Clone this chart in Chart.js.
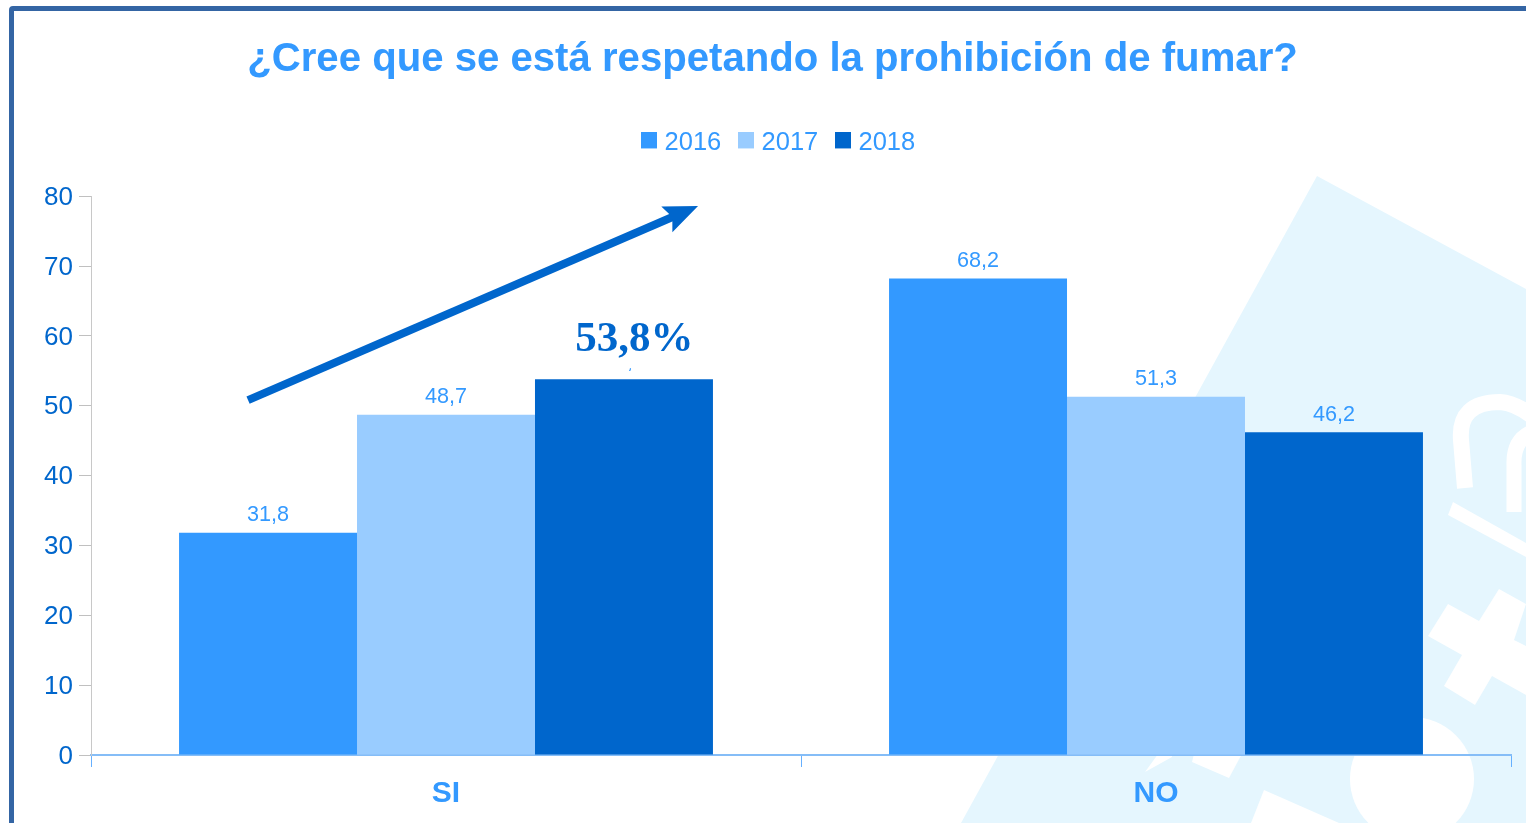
<!DOCTYPE html>
<html><head><meta charset="utf-8">
<style>
html,body{margin:0;padding:0;background:#fff;overflow:hidden;width:1526px;height:823px}
#frame{position:absolute;left:9px;top:6px;width:1600px;height:900px;border:5px solid #3465a4;border-radius:4px;box-sizing:border-box}
#wrap{position:absolute;left:0;top:0;width:1526px;height:823px}
</style>
<script src="https://cdn.jsdelivr.net/npm/chart.js@4"></script>
</head><body>
<div id="wrap"><canvas id="c" width="1526" height="823"></canvas></div>
<div id="frame"></div>
<script>
const categories = ['SI','NO'];
const seriesNames = ['2016','2017','2018'];
const values2016 = [31.8,68.2];
const values2017 = [48.7,51.3];
const values2018 = [53.8,46.2];
const colors = ['#3399ff','#99ccff','#0066cc'];
const yTicks = [0,10,20,30,40,50,60,70,80];
const titleText = '¿Cree que se está respetando la prohibición de fumar?';
const calloutText = '53,8%';
const fmt = v => v.toFixed(1).replace('.',',');

function poly(ctx, pts){ctx.beginPath();pts.forEach((p,i)=>i?ctx.lineTo(p[0],p[1]):ctx.moveTo(p[0],p[1]));ctx.closePath();ctx.fill();}
function swatch(col){const s=document.createElement('canvas');s.width=16;s.height=22;const g=s.getContext('2d');g.fillStyle=col;g.fillRect(0,0,16,16);return s;}

const watermark = {id:'watermark',beforeDraw(ch){
  const c=ch.ctx;c.save();
  c.fillStyle='#e5f6fe';
  poly(c,[[1317,176],[1526,289],[1526,823],[961,823]]);
  c.fillStyle='#fff';c.strokeStyle='#fff';
  poly(c,[[1448,604],[1479,621],[1499,589],[1526,604],[1514,640],[1526,646],[1526,695],[1492,676],[1475,705],[1444,686],[1462,655],[1428,636]]);
  poly(c,[[1453,502],[1448,515],[1526,557],[1526,543]]);
  c.lineWidth=16;c.lineCap='butt';
  c.beginPath();c.moveTo(1465,488);c.lineTo(1461,440);c.quadraticCurveTo(1458,402,1500,402);c.quadraticCurveTo(1515,403,1532,416);c.stroke();
  c.lineWidth=15;
  c.beginPath();c.moveTo(1532,432);c.quadraticCurveTo(1513,440,1514,465);c.lineTo(1514,512);c.stroke();
  c.beginPath();c.arc(1412,779,62,0,Math.PI*2);c.fill();
  poly(c,[[1145,772],[1161,750],[1172,750],[1172,757]]);
  poly(c,[[1192,762],[1229,778],[1244,750],[1195,750]]);
  poly(c,[[1251,823],[1264,790],[1339,823]]);
  c.restore();
}};

const placeBlocks = {id:'placeBlocks',
  beforeLayout(ch){
    const l=ch.legend;
    if(l && !l._extra){l._extra=true;const f=l.fit;l.fit=function(){f.call(this);this.height+=30;};}
  },
  afterLayout(ch){
    ch.titleBlock.left+=17;ch.titleBlock.right+=17;
    ch.legend.left+=25;ch.legend.right+=25;
  }
};

const overlay = {id:'overlay',afterDatasetsDraw(ch){
  const c=ch.ctx;c.save();
  c.font='21.6px "Liberation Sans"';c.fillStyle='#3399ff';c.textAlign='center';c.textBaseline='alphabetic';
  ch.data.datasets.forEach((d,i)=>{
    ch.getDatasetMeta(i).data.forEach((b,j)=>{
      c.fillText(fmt(d.data[j]),b.x,b.y-11.6);
    });
  });
  const b=ch.getDatasetMeta(2).data[0];
  const x=ch.scales.x, y=ch.scales.y;
  // white box hiding the original label, with the callout on top
  c.fillStyle='#fff';
  c.fillRect(b.x-62,b.y-60,124,49);
  c.font='bold 43px "Liberation Serif"';c.fillStyle='#0066cc';
  c.fillText(calloutText,b.x+10.5,b.y-28);
  // trend arrow
  const px=f=>x.left+f*(x.right-x.left);
  const x0=px(0.1106),y0=y.getPixelForValue(50.8),x1=px(0.4275),y1=y.getPixelForValue(78.6);
  const a=Math.atan2(y1-y0,x1-x0);
  c.strokeStyle='#0066cc';c.lineWidth=8;c.lineCap='butt';
  c.beginPath();c.moveTo(x0,y0);c.lineTo(x1-24*Math.cos(a),y1-24*Math.sin(a));c.stroke();
  c.fillStyle='#0066cc';c.translate(x1,y1);c.rotate(a);
  c.beginPath();c.moveTo(0,0);c.lineTo(-34,-14);c.lineTo(-28,0);c.lineTo(-34,14);c.closePath();c.fill();
  c.restore();
}};

new Chart(document.getElementById('c'),{
  type:'bar',
  data:{labels:categories,datasets:[
    {label:seriesNames[0],data:values2016,backgroundColor:colors[0]},
    {label:seriesNames[1],data:values2017,backgroundColor:colors[1]},
    {label:seriesNames[2],data:values2018,backgroundColor:colors[2]}
  ]},
  plugins:[watermark,placeBlocks,overlay],
  options:{
    responsive:false,animation:false,
    layout:{padding:{left:0,right:15,top:0,bottom:0}},
    datasets:{bar:{categoryPercentage:0.752,barPercentage:1,borderWidth:0}},
    plugins:{
      title:{display:true,text:titleText,color:'#3399ff',font:{family:'"Liberation Sans"',size:40.15,weight:'bold'},padding:{top:36,bottom:25}},
      legend:{display:true,position:'top',align:'center',labels:{
        color:'#3399ff',font:{family:'"Liberation Sans"',size:25.5},usePointStyle:true,pointStyleWidth:6,boxHeight:16,padding:21.5,
        generateLabels(ch){
          return Chart.defaults.plugins.legend.labels.generateLabels(ch).map((it,i)=>Object.assign(it,{pointStyle:swatch(colors[i])}));
        }
      }},
      tooltip:{enabled:false}
    },
    scales:{
      x:{offset:true,
        afterFit(a){a.height=68;},
        grid:{display:true,drawOnChartArea:false,drawTicks:true,tickLength:12,tickColor:'#66b0ff',offset:true},
        border:{display:true,color:'#85bdf7',width:2},
        ticks:{color:'#3399ff',font:{family:'"Liberation Sans"',size:30,weight:'bold'},padding:9,maxRotation:0}
      },
      y:{min:0,max:80,
        afterBuildTicks(a){a.ticks=yTicks.map(v=>({value:v}));},
        afterFit(a){a.width=91;},
        grid:{display:true,drawOnChartArea:false,drawTicks:true,tickLength:12,tickColor:'#c0c0c0'},
        border:{display:true,color:'#c8c8c8',width:1},
        ticks:{color:'#0066cc',font:{family:'"Liberation Sans"',size:26},padding:6,labelOffset:1.5}
      }
    }
  }
});
</script>
</body></html>
